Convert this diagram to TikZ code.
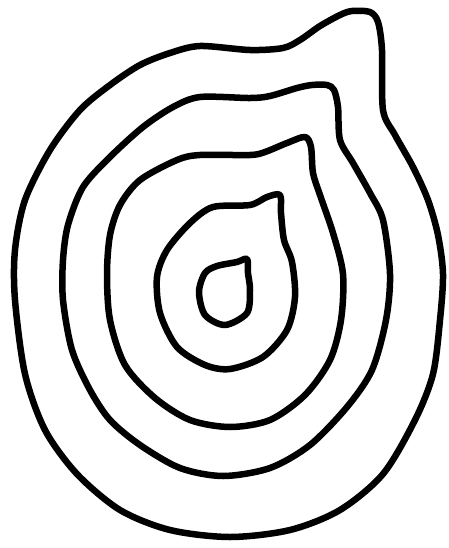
\documentclass[tikz,border=0pt]{standalone}
\begin{document}
\begin{tikzpicture}[x=0.02cm, y=-0.02cm,
    contour/.style={line width=3.7pt, line join=round, smooth cycle, tension=0.5}]
    \useasboundingbox (0,0) rectangle (449,548);

    % 外圈
    \draw[contour] plot coordinates {
        (352,11) (370,12) (378,22) (382,50) (383,110) (395,135) (413,167)
        (428,200) (438,235) (443,274) (440,320) (433,374) (415,420) (383,474)
        (340,510) (290,530) (230,537) (170,530) (120,510) (77,474) (45,430)
        (25,374) (15,300) (15,250) (25,200) (50,150) (80,110) (110,85)
        (140,65) (170,53) (200,46) (250,50) (283,48) (300,40) (320,26) (340,15)};

    % 第二圈
    \draw[contour] plot coordinates {
        (327,85) (334,90) (338,107) (340,140) (353,163) (370,193) (383,220)
        (390,274) (386,320) (372,370) (347,407) (310,445) (270,468) (223,476)
        (180,468) (140,445) (110,420) (90,390) (72,350) (63,300) (63,260)
        (68,225) (83,187) (110,157) (143,127) (173,107) (200,97) (250,98)
        (270,96) (297,88) (312,85)};

    % 第三圈
    \draw[contour] plot coordinates {
        (305,137) (311,147) (313,173) (320,195) (333,233) (343,274) (341,320)
        (330,360) (305,395) (270,420) (230,427) (190,420) (155,398) (125,365)
        (110,320) (107,274) (110,235) (120,205) (140,180) (177,160) (200,155)
        (250,155) (265,152) (287,143)};

    % 第四圈
    \draw[contour] plot coordinates {
        (280,195) (281,213) (284,240) (292,262) (295,297) (287,330) (263,357)
        (230,369) (205,365) (177,347) (160,313) (157,277) (167,250) (190,223)
        (213,207) (250,205) (267,197)};

    % 中心
    \draw[contour] plot coordinates {
        (247,259) (248,273) (250,290) (247,313) (225,325) (205,315) (199,292)
        (205,273) (217,266) (237,262)};

\end{tikzpicture}
\end{document}
